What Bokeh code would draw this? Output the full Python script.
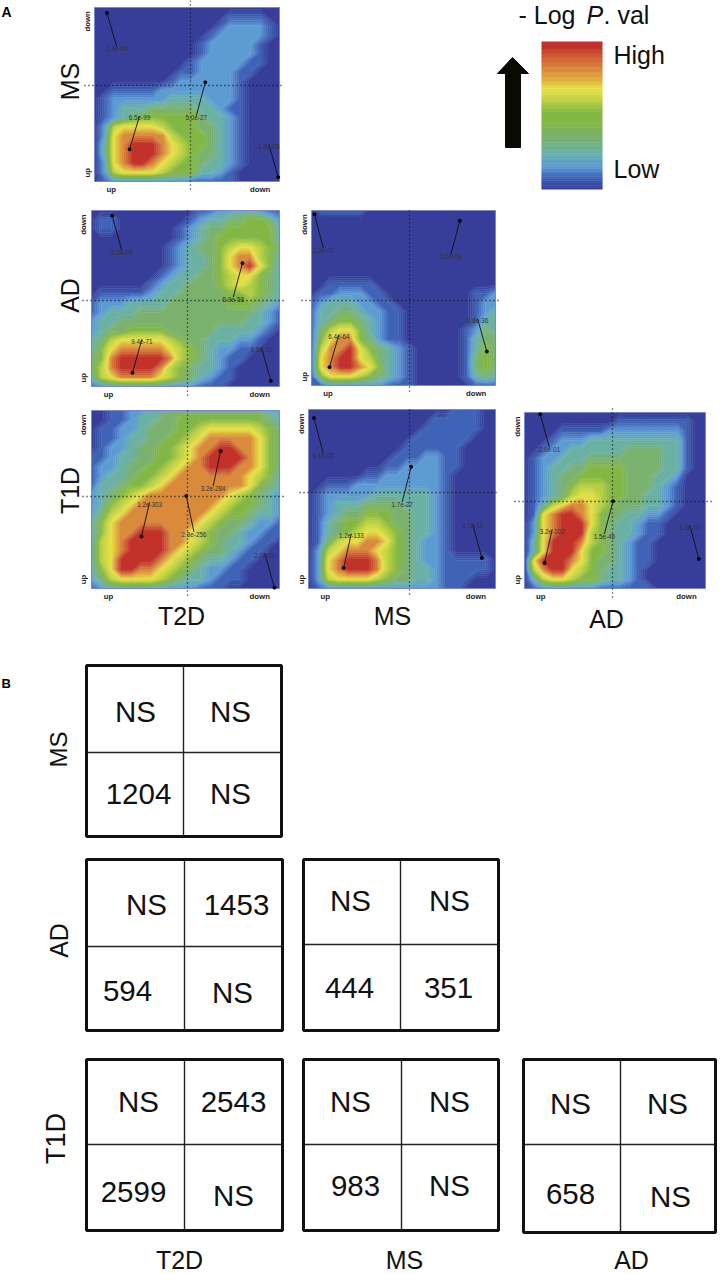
import numpy as np
from bokeh.plotting import figure
from bokeh.models import Range1d
from bokeh.core.properties import value
from bokeh.embed import file_html
from bokeh.resources import INLINE

W, H = 720, 1274
FONT = value("Liberation Sans")

# ---------- data: heat levels, first string = top row ("down"), 0 low .. 9 high ----------
heat_ms_t2d = ["00000000000000000000","00000000000000111100","00000000000001222210","00000000000012222210",
"00000000000122222100","00000000000122222100","00000000001222221100","00000000011222211000",
"00000000122222210000","00111112222222210000","01222222333322210000","01233344444332110000",
"01234555555433210000","02677776555443210000","02788888655543210000","03789998765543210000",
"03789998765443210000","02789987655433210000","02677776555332100000","01222222221111100000"]
heat_ad_t2d = ["00000000000112233211","01100000001233445542","01100000012344555553","00000000012345555553",
"00000000123445677654","00000000123345788653","00000000123345789753","00000001233445677543",
"00000012334445676543","01111123344444556543","12223333444444555432","12333444444444444321",
"23344444444444443321","23445555444443333210","34677777654433322100","35788888765432211000",
"45899999865432110000","46899998654332100000","36788887654321100000","12333333222111000000"]
heat_ad_ms = ["01111100000000000000","00000000000000000000","00000000000000000000","00000000000000000000",
"00000000000000000000","00000000000000000000","00000000000000000000","00000000000000000000",
"00111110000000000000","01122211000000000112","12333221100000000122","13344322110000000123",
"13455432110000000133","14677532110000001243","15788542110000001344","16889754321000001354",
"17899764321000001454","17899875321000001454","15777654321000001343","11222222111000000111"]
heat_t1d_t2d = ["00112233444444444432","00112334455555555543","01122344455677777654","01123344556788888754",
"01223445567889988754","11233445567899998754","12234455678899988754","12334556788888887653",
"13345567888888887543","23456788888888765432","23567888888887655432","24678888888876554332",
"35788888888765443221","35788999887654432211","36789999887654332110","36789999876544321100",
"36799998765433211000","35799887654322110000","24677776543321110000","12333333222111000000"]
heat_t1d_ms = ["00000000000000011100","00000000000001111100","00000000000011111100","00000000000111111000",
"00000000001111110000","00000000011122110000","00000000112222110000","00000011222222100000",
"00111222222222100000","01222223333332100000","01233344443332100000","01234455544332100000",
"01345566544332100000","01345677654332100000","01467788754322100000","02678887654322100000",
"02789998654322111110","02789998654332111110","02677776544332111000","01222222222222110000"]
heat_t1d_ad = ["00000000000000000000","00000000001111111100","00001111122222222100","00012223333333333100",
"00122333333444433100","01223334444444433100","01233445555444433100","01234455555444332000",
"01234566655444321000","01234677655443321000","01367887654443321000","01789987544332210000",
"02789997543321100000","02789996543321100000","03799986543211000000","03799975543211000000",
"07999875443211000000","06899765433210000000","03677655433210000000","01222222111111000000"]

# annotations: p-value label, point x, point y, label x, label y (0..1 inside a panel, y upward)
notes_ms_t2d = [("1.4e-06",.067,.969,.12,.776),("6.5e-99",.19,.185,.243,.377),("5.0e-27",.599,.57,.55,.377),("1.5e-05",.993,.025,.942,.216)]
notes_ad_t2d = [("3.3e-09",.11,.97,.161,.773),("5.9e-58",.803,.701,.754,.508),("9.4e-71",.218,.078,.268,.269),("6.6e-33",.954,.032,.904,.222)]
notes_ad_ms = [("3.2e-07",.016,.979,.065,.783),("3.0e-06",.806,.941,.757,.747),("6.4e-64",.098,.105,.149,.291),("2.8e-36",.953,.194,.902,.383)]
notes_t1d_t2d = [("1.2e-303",.266,.292,.309,.484),("3.2e-284",.687,.772,.647,.574),("2.8e-256",.504,.52,.545,.318),("2.0e-01",.973,.004,.922,.198)]
notes_t1d_ms = [("6.1e-05",.029,.952,.079,.755),("1.2e-133",.188,.115,.229,.307),("1.7e-27",.549,.68,.501,.483),("3.7e-12",.927,.171,.877,.362)]
notes_t1d_ad = [("2.0e-01",.087,.99,.138,.8),("3.2e-102",.111,.145,.153,.336),("1.5e-45",.489,.496,.441,.309),("1.3e-05",.963,.168,.913,.36)]

# part B: overlap counts [upper left, upper right, lower left, lower right]
counts_ms_t2d = ["NS","NS","1204","NS"]
counts_ad_t2d = ["NS","1453","594","NS"]
counts_ad_ms = ["NS","NS","444","351"]
counts_t1d_t2d = ["NS","2543","2599","NS"]
counts_t1d_ms = ["NS","NS","983","NS"]
counts_t1d_ad = ["NS","NS","658","NS"]

# colour-bar levels, top to bottom
bar_levels = [9,8.8,8.4,8.1,7.8,7.5,7,6.5,5.7,5,5,4.6,4.2,3.8,3.2,2.6,2,1.4,.7,0]

# ---------- colours ----------
stops = [(0,"#353b96"),(1,"#3c5fb4"),(2,"#5c9ad6"),(3,"#68b0a8"),(4,"#78b072"),(5,"#84b840"),
         (6,"#bcd040"),(7,"#e6e044"),(8,"#d8823a"),(9,"#c02a2a")]
def hex2rgb(h): return [int(h[i:i+2],16) for i in (1,3,5)]
lv = [s[0] for s in stops]
rgb = np.array([hex2rgb(s[1]) for s in stops],float)
def colour(v): return "#%02x%02x%02x" % tuple(int(round(np.interp(v,lv,rgb[:,k]))) for k in range(3))
levels = np.linspace(-.01,9.01,46)
fills = [colour((a+b)/2) for a,b in zip(levels[:-1],levels[1:])]
edges = [colour(v) for v in levels]

p = figure(width=W, height=H, x_range=Range1d(0,W), y_range=Range1d(H,0), toolbar_location=None,
           output_backend="svg", min_border=0, outline_line_color=None, background_fill_color="white")
p.axis.visible = False
p.grid.visible = False

def txt(x,y,s,size,align="center",angle=0,style="normal",color="#111111",x_range_name="default",y_range_name="default"):
    p.text([x],[y],text=[s],text_font=FONT,text_font_size=f"{size}px",text_align=align,text_baseline="middle",
           angle=angle,text_color=color,text_font_style=style,x_range_name=x_range_name,y_range_name=y_range_name)

def add_range(name,x0,x1,y0,y1):
    wd, ht = x1-x0, y1-y0
    p.extra_x_ranges[name] = Range1d(-x0/wd,(W-x0)/wd)
    p.extra_y_ranges[name] = Range1d((y1-H)/ht,y1/ht)

def heat_fill(z,xs,ys):
    p.contour(xs,ys,z,levels=levels,fill_color=fills,line_color=edges,line_width=0.8)

# name, heat, notes, frame x0,x1,y0,y1, cross x, cross y, vline y0,y1, hline x0,x1
panels = [
 ("a",heat_ms_t2d,notes_ms_t2d,94,279,7,181,190,85,0,191,84,283),
 ("b",heat_ad_t2d,notes_ad_t2d,91,279,210,386,187,300,210,395,82,283),
 ("c",heat_ad_ms,notes_ad_ms,311,495,210,385,409,300,210,394,301,498),
 ("d",heat_t1d_t2d,notes_t1d_t2d,91,279,410,588,187,496,410,597,82,283),
 ("e",heat_t1d_ms,notes_t1d_ms,308,495,409,588,409,492,409,597,299,498),
 ("f",heat_t1d_ad,notes_t1d_ad,524,705,412,588,612,501,408,597,514,713),
]
for name,heat,notes,x0,x1,y0,y1,cx,cy,vy0,vy1,hx0,hx1 in panels:
    add_range(name,x0,x1,y0,y1)
    kw = dict(x_range_name=name,y_range_name=name)
    arr = np.array([[int(c) for c in row] for row in heat],float)
    heat_fill(arr,np.linspace(x0,x1,arr.shape[1]),np.linspace(y0,y1,arr.shape[0]))
    p.quad(left=[0],right=[1],bottom=[0],top=[1],fill_color=None,line_color="#7c86cc",line_width=1,**kw)
    p.line([cx,cx],[vy0,vy1],line_color="#111111",line_width=1.3,line_dash="1 3")
    p.line([hx0,hx1],[cy,cy],line_color="#111111",line_width=1.3,line_dash="1 3")
    for lab,px,py,lx,ly in notes:
        p.line([px,lx],[py,ly],line_color="#111111",line_width=0.9,**kw)
        p.scatter([px],[py],size=3,color="#000000",**kw)
        txt(lx,ly-0.012,lab,6.3,color="#333333",**kw)
    txt(.09,-.045,"up",7.8,style="bold",color="#222222",**kw)
    txt(.895,-.045,"down",7.8,style="bold",color="#222222",**kw)
    txt(-.04,.05,"up",7.8,angle=np.pi/2,style="bold",color="#222222",**kw)
    txt(-.04,.92,"down",7.8,angle=np.pi/2,style="bold",color="#222222",**kw)

# panel letters
txt(1,11,"A",14,align="left",style="bold",color="#000000")
txt(1,683,"B",13,align="left",style="bold",color="#000000")

# row / column names part A
for s,x,y in [("MS",69,81),("AD",69,295),("T1D",69,490)]:
    txt(x,y,s,25,angle=np.pi/2)
for s,x,y in [("T2D",181,615),("MS",392,615),("AD",606,618)]:
    txt(x,y,s,25)

# legend
txt(518,14,"- Log",25,align="left")
txt(586,14,"P",25,align="left",style="italic")
txt(603,14,". val",25,align="left")
bar = np.array([[v,v] for v in bar_levels],float)
heat_fill(bar,np.array([541.,602.]),np.linspace(41,189,len(bar_levels)))
p.patch([512,528,520,520,505,505,497],[57,73,73,147,147,73,73],color="#0a0a05")
txt(613,54,"High",25,align="left")
txt(613,168,"Low",25,align="left")

# part B matrices: counts, outer x0,x1,y0,y1, inner x, y, text positions (x,y) per cell
matrices = [
 (counts_ms_t2d,86,281,665,836,183,752,[(135,711),(230,711),(138,793),(230,793)]),
 (counts_ad_t2d,86,282,859,1030,184,946,[(146,904),(236,904),(127,990),(232,992)]),
 (counts_ad_ms,303,498,859,1030,400,944,[(350,900),(449,900),(349,987),(448,987)]),
 (counts_t1d_t2d,86,282,1059,1230,184,1144,[(138,1101),(233,1101),(133,1191),(233,1195)]),
 (counts_t1d_ms,303,498,1059,1230,401,1144,[(350,1101),(449,1101),(355,1185),(449,1185)]),
 (counts_t1d_ad,523,715,1059,1232,620,1144,[(570,1103),(667,1103),(570,1193),(670,1196)]),
]
for counts,x0,x1,y0,y1,ix,iy,pos in matrices:
    p.line([ix,ix],[y0,y1],line_color="#222222",line_width=1.4)
    p.line([x0,x1],[iy,iy],line_color="#222222",line_width=1.4)
    p.quad(left=[x0],right=[x1],top=[y0],bottom=[y1],fill_color=None,line_color="#111111",line_width=3)
    for s,(tx,ty) in zip(counts,pos):
        txt(tx,ty,s,29.5)
for s,x,y,z in [("MS",58,749,24),("AD",58,940,25),("T1D",55,1138,27)]:
    txt(x,y,s,z,angle=np.pi/2)
for s,x,y in [("T2D",179,1259),("MS",404,1259),("AD",631,1259)]:
    txt(x,y,s,25)

open("out.html","w").write(file_html(p, INLINE))
